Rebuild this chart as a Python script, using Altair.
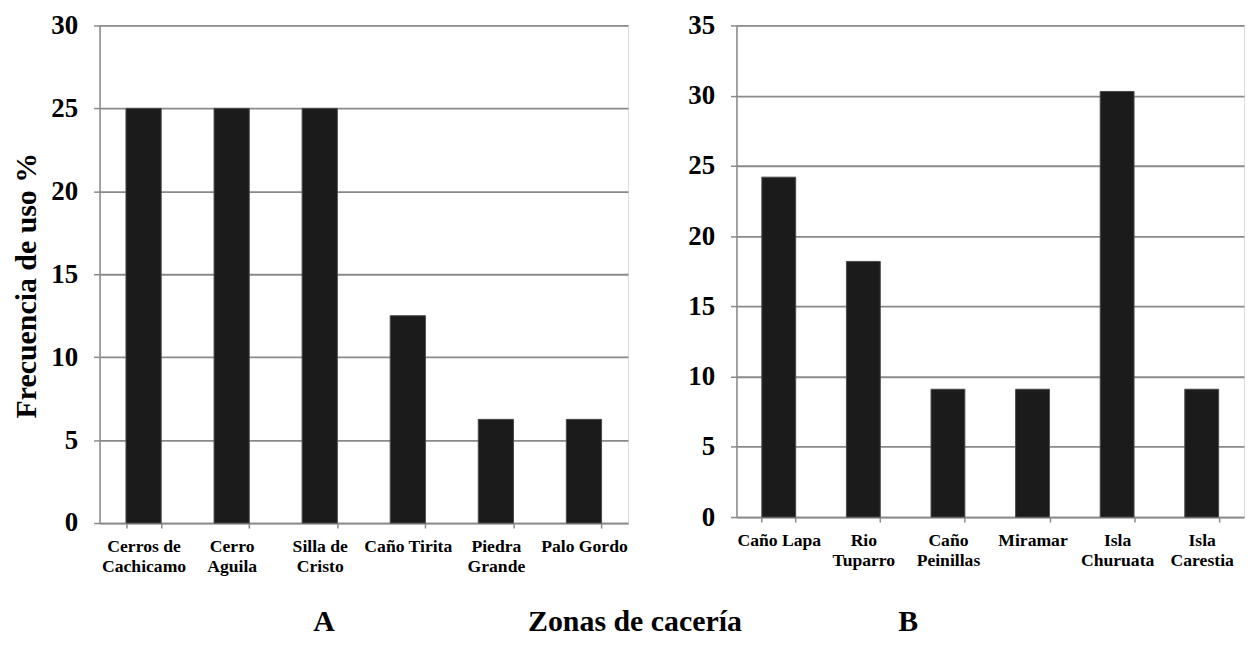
import altair as alt
import pandas as pd

# Panel A
zonas_a = ["Cerros de\nCachicamo", "Cerro\nAguila", "Silla de\nCristo", "Caño Tirita", "Piedra\nGrande", "Palo Gordo"]
frec_a = [25, 25, 25, 12.5, 6.25, 6.25]
ticks_a = [0, 5, 10, 15, 20, 25, 30]

# Panel B
zonas_b = ["Caño Lapa", "Rio\nTuparro", "Caño\nPeinillas", "Miramar", "Isla\nChuruata", "Isla\nCarestia"]
frec_b = [24.2, 18.2, 9.1, 9.1, 30.3, 9.1]
ticks_b = [0, 5, 10, 15, 20, 25, 30, 35]

titulo_x = ["Zonas de cacería"]
titulo_y = "Frecuencia de uso %"

FONT = "Liberation Serif"
GRAY = "#8a8a8a"

df_a = pd.DataFrame({"zona": zonas_a, "frec": frec_a})
df_b = pd.DataFrame({"zona": zonas_b, "frec": frec_b})
df_t = pd.DataFrame({"t": titulo_x})


def x_axis(title, tx, ty):
    return alt.Axis(
        title=title, titleX=tx, titleY=ty, titleAlign="center", titleBaseline="alphabetic",
        titleFont=FONT, titleFontSize=30, titleFontWeight="bold", titleColor="black",
        labelAngle=0, labelExpr="split(datum.label, '\\n')", labelFont=FONT,
        labelFontSize=17.7, labelFontWeight="bold", labelColor="black",
        labelLineHeight=20, labelPadding=10, labelOverlap=False, labelLimit=300,
        tickBand="extent", tickSize=5, tickColor=GRAY, tickWidth=1.5,
        domainColor=GRAY, domainWidth=1.5,
    )


def y_axis(values, title=None):
    kw = dict(
        values=values, grid=True, gridColor=GRAY, gridWidth=1.8,
        labelFont=FONT, labelFontSize=27, labelFontWeight="bold", labelColor="black",
        labelPadding=16, tickSize=6, tickColor=GRAY, tickWidth=1.5,
        domainColor=GRAY, domainWidth=1.5,
    )
    if title:
        kw.update(title=title, titleX=-64, titleY=261, titleAngle=270, titleAlign="center",
                  titleBaseline="alphabetic", titleFont=FONT, titleFontSize=30,
                  titleFontWeight="bold", titleColor="black")
    else:
        kw.update(title=None)
    return alt.Axis(**kw)


bars_a = alt.Chart(df_a).mark_bar(color="#1b1b1b", stroke="#4a4a4a", strokeWidth=1).encode(
    x=alt.X("zona:N", sort=None, scale=alt.Scale(paddingInner=0.6, paddingOuter=0.3),
            axis=x_axis("A", 225, 108)),
    y=alt.Y("frec:Q", scale=alt.Scale(domain=[0, 30], nice=False), axis=y_axis(ticks_a, titulo_y)),
)

texto = alt.Chart(df_t).mark_text(
    font=FONT, fontSize=30, fontWeight="bold", color="black", align="center", baseline="alphabetic"
).encode(text="t:N", x=alt.value(538), y=alt.value(608))

panel_a = alt.layer(bars_a, texto).properties(width=531, height=500)

panel_b = alt.Chart(df_b).mark_bar(color="#1b1b1b", stroke="#4a4a4a", strokeWidth=1).encode(
    x=alt.X("zona:N", sort=None, scale=alt.Scale(paddingInner=0.6, paddingOuter=0.3),
            axis=x_axis("B", 172, 114)),
    y=alt.Y("frec:Q", scale=alt.Scale(domain=[0, 35], nice=False), axis=y_axis(ticks_b)),
).properties(width=510, height=494)

chart = alt.hconcat(panel_a, panel_b, spacing=109, bounds="flush").properties(
    padding={"left": 3, "top": 1, "right": 0, "bottom": 0}
).configure_view(stroke=None).configure(background="white")

chart.save("out.html", embed_options={"renderer": "svg", "actions": False})
